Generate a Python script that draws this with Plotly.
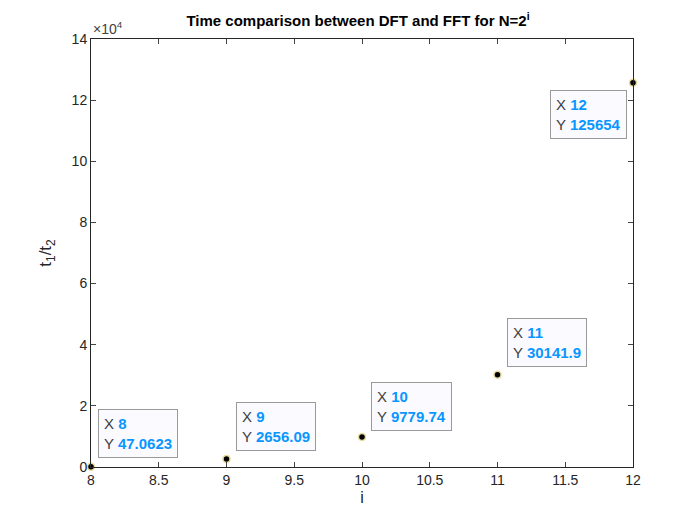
import plotly.graph_objects as go

xs = [8, 9, 10, 11, 12]
ys = [47.0623, 2656.09, 9779.74, 30141.9, 125654]
ylabels = ["47.0623", "2656.09", "9779.74", "30141.9", "125654"]
offsets = [(47, -33), (49, -32), (49, -31), (49, -32), (-45, 32)]

fig = go.Figure(go.Scatter(x=xs, y=ys, mode="markers", cliponaxis=False,
    marker=dict(color="black", size=7, line=dict(color="#e8dca0", width=1.5))))

for x, y, lab, (ax, ay) in zip(xs, ys, ylabels, offsets):
    fig.add_annotation(x=x, y=y, ax=ax, ay=ay, showarrow=True, arrowcolor="rgba(0,0,0,0)",
        text=f"<span style='color:#404040'>X </span><b>{x}</b><br><span style='color:#404040'>Y </span><b>{lab}</b>",
        align="left", font=dict(color="#0a96ff", size=15, family="Liberation Sans"),
        bgcolor="rgba(250,250,255,0.95)", bordercolor="#999999", borderwidth=1, borderpad=5)

fig.add_annotation(x=0, y=1, xref="paper", yref="paper", xanchor="left", yanchor="bottom",
    text="×10<sup>4</sup>", showarrow=False, font=dict(size=14, color="#404040"))

axis = dict(showgrid=False, zeroline=False, mirror="ticks", ticks="inside", ticklen=5,
    showline=True, linecolor="#262626", linewidth=1, tickfont=dict(size=14, color="#262626"))
fig.update_layout(
    width=700, height=525, plot_bgcolor="white", paper_bgcolor="white",
    font=dict(family="Liberation Sans", color="#262626"), showlegend=False,
    margin=dict(l=83, r=75, t=31, b=66),
    title=dict(text="<b>Time comparison between DFT and FFT for N=2<sup>i</sup></b>",
               x=0.5, xanchor="center", y=0.985, font=dict(size=15, color="black")),
    xaxis=dict(axis, range=[8, 12], tickvals=[8, 8.5, 9, 9.5, 10, 10.5, 11, 11.5, 12],
               ticktext=["8", "8.5", "9", "9.5", "10", "10.5", "11", "11.5", "12"],
               title=dict(text="i", font=dict(size=16), standoff=5)),
    yaxis=dict(axis, range=[0, 140000], tickvals=[i * 20000 for i in range(8)],
               ticktext=[str(2 * i) for i in range(8)],
               title=dict(text="t<sub>1</sub>/t<sub>2</sub>", font=dict(size=17), standoff=15)),
)
fig.write_html("out.html")
